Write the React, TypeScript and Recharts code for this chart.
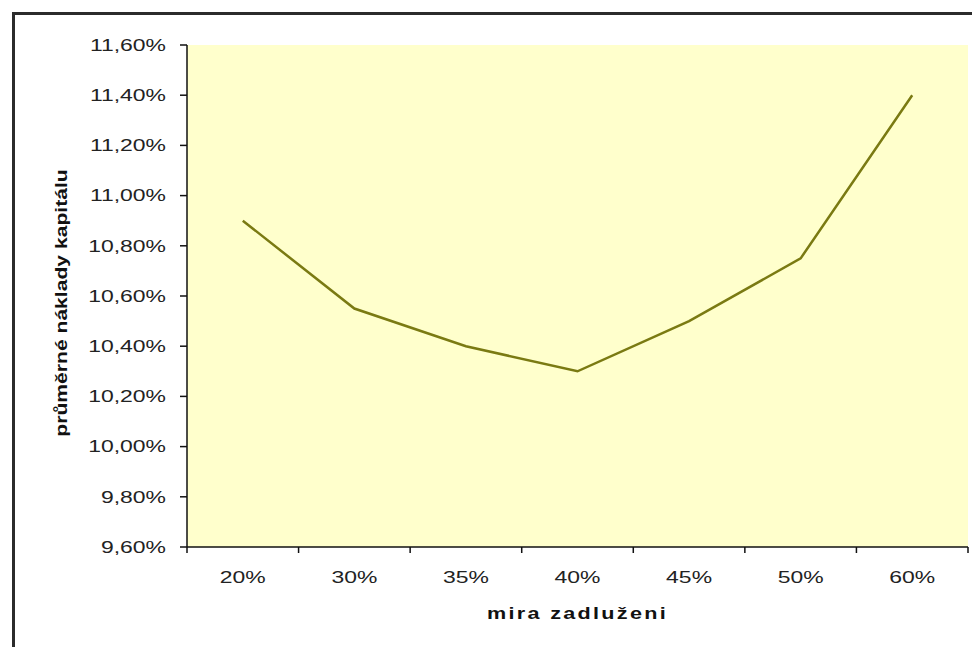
import React from "react";
import { LineChart, Line, XAxis, YAxis, CartesianGrid } from "recharts";

// míra zadlužení (kategorie) a průměrné náklady kapitálu v %
const categories = ["20%", "30%", "35%", "40%", "45%", "50%", "60%"];
const avgCost = [10.9, 10.55, 10.4, 10.3, 10.5, 10.75, 11.4];
const yTicks = [9.6, 9.8, 10.0, 10.2, 10.4, 10.6, 10.8, 11.0, 11.2, 11.4, 11.6];

const data = categories.map((name, i) => ({ name, value: avgCost[i] }));

const FONT = '"Liberation Sans", Arial, sans-serif';
const STRETCH = 1.35;

const fmt = (v: number) => v.toFixed(2).replace(".", ",") + "%";

const YTick = (props: any) => {
  const { x, y, payload } = props;
  return (
    <text
      transform={`translate(${x},${y}) scale(${STRETCH},1)`}
      x={0}
      y={0}
      textAnchor="end"
      dominantBaseline="central"
      fontFamily={FONT}
      fontSize={17}
      fill="#222"
    >
      {fmt(payload.value)}
    </text>
  );
};

const XTick = (props: any) => {
  const { x, y, payload, index } = props;
  const half = payload && payload.offset ? payload.offset : 55.8;
  const last = index === categories.length - 1;
  return (
    <g>
      <line x1={x - half} x2={x - half} y1={y - 6} y2={y} stroke="#111" strokeWidth={1.5} />
      {last && <line x1={x + half} x2={x + half} y1={y - 6} y2={y} stroke="#111" strokeWidth={1.5} />}
      <text
        transform={`translate(${x},${y + 24}) scale(${STRETCH},1)`}
        x={0}
        y={0}
        textAnchor="middle"
        dominantBaseline="central"
        fontFamily={FONT}
        fontSize={17}
        fill="#222"
      >
        {payload.value}
      </text>
    </g>
  );
};

const XTitle = (props: any) => {
  const vb = props.viewBox || { x: 187, y: 547, width: 781, height: 100 };
  return (
    <text
      transform={`translate(${vb.x + vb.width / 2},${vb.y + 67}) scale(${STRETCH},1)`}
      textAnchor="middle"
      dominantBaseline="central"
      fontFamily={FONT}
      fontWeight="bold"
      fontSize={16}
      letterSpacing={1.7}
      fill="#111"
    >
      mira zadluženi
    </text>
  );
};

const YTitle = (props: any) => {
  const vb = props.viewBox || { x: 0, y: 45, width: 187, height: 502 };
  return (
    <text
      transform={`translate(${vb.x + 61},${vb.y + vb.height / 2 + 7}) rotate(-90) scale(1.32,1)`}
      textAnchor="middle"
      dominantBaseline="central"
      fontFamily={FONT}
      fontWeight="bold"
      fontSize={16}
      fill="#111"
    >
      průměrné náklady kapitálu
    </text>
  );
};

export default function App() {
  return (
    <div
      style={{
        position: "fixed",
        left: 0,
        top: 0,
        width: 972,
        height: 647,
        overflow: "hidden",
        background: "#fff",
      }}
    >
      <div
        style={{
          position: "absolute",
          left: 12,
          top: 12,
          width: 1100,
          height: 800,
          border: "3px solid #2b2b2b",
        }}
      />
      <div style={{ position: "absolute", left: 0, top: 0 }}>
        <LineChart
          width={972}
          height={647}
          data={data}
          margin={{ top: 45, right: 4, bottom: 0, left: 0 }}
        >
          <CartesianGrid horizontal={false} vertical={false} fill="#FFFFCC" />
          <XAxis
            dataKey="name"
            scale="band"
            height={100}
            tickSize={6}
            tickMargin={0}
            tickLine={false}
            axisLine={{ stroke: "#111", strokeWidth: 1.5 }}
            tick={<XTick />}
            interval={0}
            label={<XTitle />}
          />
          <XAxis
            xAxisId="top"
            dataKey="name"
            scale="band"
            orientation="top"
            height={0}
            tick={false}
            tickLine={false}
            axisLine={{ stroke: "#9a9a8a", strokeWidth: 1.5 }}
          />
          <YAxis
            type="number"
            domain={[9.6, 11.6]}
            ticks={yTicks}
            width={187}
            tickSize={7}
            tickMargin={14}
            tickLine={{ stroke: "#111", strokeWidth: 1.5 }}
            axisLine={{ stroke: "#111", strokeWidth: 1.5 }}
            tick={<YTick />}
            interval={0}
            allowDataOverflow
            label={<YTitle />}
          />
          <YAxis
            yAxisId="right"
            orientation="right"
            width={0}
            domain={[9.6, 11.6]}
            tick={false}
            tickLine={false}
            axisLine={{ stroke: "#9a9a8a", strokeWidth: 1.5 }}
          />
          <Line
            type="linear"
            dataKey="value"
            stroke="#7a7a12"
            strokeWidth={2.5}
            dot={false}
            activeDot={false}
            isAnimationActive={false}
          />
        </LineChart>
      </div>
    </div>
  );
}
